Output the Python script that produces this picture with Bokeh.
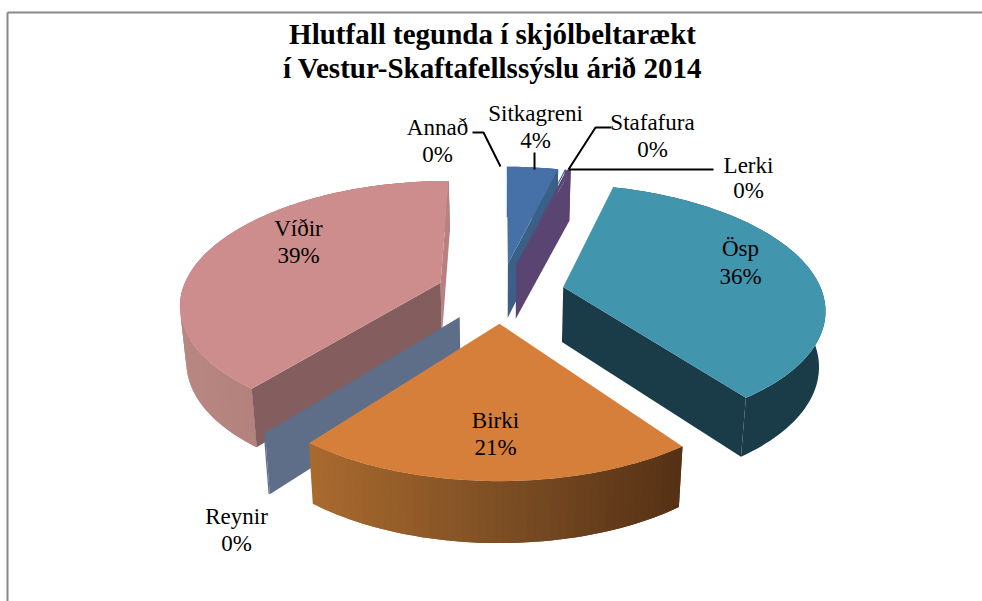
import math
from bokeh.plotting import figure
from bokeh.embed import file_html
from bokeh.resources import INLINE
from bokeh.core.properties import value

# ---- data ----
categories = ["Sitkagreni", "Stafafura", "Lerki", "Ösp", "Birki", "Reynir", "Víðir", "Annað"]
shares = [3.8, 0.1, 0.3, 35.8, 20.5, 0.1, 39.4, 0.0]
pct_labels = ["4%", "0%", "0%", "36%", "21%", "0%", "39%", "0%"]
title_lines = ["Hlutfall tegunda í skjólbeltarækt", "í Vestur-Skaftafellssýslu árið 2014"]

# ---- styles ----
top_col = dict(zip(categories, ["#4571a8", "#3a6088", "#5c4676", "#4196ae", "#d67f3b", "#5e6d88", "#cd8d8d", "#ffffff"]))
radial_col = dict(zip(categories, ["#3a6088", "#3a6088", "#5a4472", "#1a3c48", "#5a3416", "#5e6d88", "#845e5e", "#ffffff"]))
outer_stops = {
    "Sitkagreni": ["#3a6088", "#3a6088"],
    "Stafafura": ["#3a6088", "#3a6088"],
    "Lerki": ["#5a4472", "#5a4472"],
    "Ösp": ["#1a3c48", "#1a3c48"],
    "Birki": ["#aa6a2e", "#7e4f24", "#553115"],
    "Reynir": ["#5e6d88", "#5e6d88"],
    "Víðir": ["#b98781", "#a67270"],
}
radial_side = {"Sitkagreni": "end", "Lerki": "end", "Ösp": "end", "Reynir": "start", "Víðir": "start"}
label_pos = {
    "Sitkagreni": (535, 113, 140), "Stafafura": (652, 122, 149), "Lerki": (748, 165, 190),
    "Ösp": (740, 248, 276), "Birki": (495, 420, 447), "Reynir": (236, 516, 543),
    "Víðir": (298, 228, 255), "Annað": (437, 127, 154),
}
leaders = [
    ([472, 483, 500], [132, 132, 166]),
    ([534, 534], [152, 169]),
    ([611, 595, 568], [127, 127, 169]),
    ([568, 713], [169, 169]),
]

# ---- projection of the tilted pie ----
CX, CY, F, G, PERSP, EXPLODE = 500, 292, 259, 121, 0.16, 0.248


def project(x, y):
    w = 1 + PERSP * y
    return CX + F * x / w, CY - G * y / w


def drop(pt):
    return CX + (pt[0] - CX) * 0.98, pt[1] + 44.6 + 0.036 * pt[1]


def hex2rgb(c):
    return [int(c[i:i + 2], 16) for i in (1, 3, 5)]


def ramp(stops, t):
    t = max(0, min(1, t)) * (len(stops) - 1)
    i = min(int(t), len(stops) - 2)
    a, b = hex2rgb(stops[i]), hex2rgb(stops[i + 1])
    f = t - i
    return "#%02x%02x%02x" % tuple(round(a[k] + (b[k] - a[k]) * f) for k in range(3))


slices = {}
acc = 0.0
for name, share in zip(categories, shares):
    a0, a1 = acc * 3.6, (acc + share) * 3.6
    acc += share
    mid = math.radians((a0 + a1) / 2)
    ex, ey = EXPLODE * math.sin(mid), EXPLODE * math.cos(mid)
    apex = project(ex, ey)
    n = max(2, int((a1 - a0) / 1.5) + 2)
    arc = []
    for i in range(n):
        th = math.radians(a0 + (a1 - a0) * i / (n - 1))
        arc.append(project(ex + math.sin(th), ey + math.cos(th)))
    slices[name] = dict(apex=apex, arc=arc)

p = figure(width=982, height=601, x_range=(0, 982), y_range=(601, 0), toolbar_location=None,
           output_backend="svg", min_border=0)
p.axis.visible = False
p.grid.visible = False
p.outline_line_color = None
p.background_fill_color = "white"

# chart frame
p.line([7, 7], [601, 12], line_color="#8a8a8a", line_width=2)
p.line([7, 982], [12, 12], line_color="#8a8a8a", line_width=2)


def poly(pts, color):
    p.patch([q[0] for q in pts], [q[1] for q in pts], fill_color=color, line_color=None)


def draw(name, back_sliver=False):
    s = slices[name]
    apex, arc = s["apex"], s["arc"]
    stops = outer_stops[name]
    # outer wall, every strip overlapping the next so that no seams show
    xs = [q[0] for q in arc]
    lo, hi = min(xs), max(xs)
    if stops[0] == stops[-1]:
        poly(arc + [drop(q) for q in reversed(arc)], stops[0])
    else:
        order = sorted(range(len(arc) - 1), key=lambda i: arc[i][0])
        for i in order:
            a, b = arc[i], arc[i + 1]
            c = arc[min(i + 2, len(arc) - 1)] if arc[i + 1][0] > arc[i][0] else arc[i + 1]
            d = arc[max(i - 1, 0)] if arc[i + 1][0] < arc[i][0] else arc[i]
            t = ((a[0] + b[0]) / 2 - lo) / max(hi - lo, 1)
            poly([d, a, b, c, drop(c), drop(b), drop(a), drop(d)], ramp(stops, t))
    if back_sliver:
        poly([apex, arc[-1], drop(arc[-1]), drop(apex)], "#b88080")
    # radial wall
    edge = arc[-1] if radial_side.get(name) == "end" else arc[0]
    if name in radial_side:
        poly([apex, edge, drop(edge), drop(apex)], radial_col[name])
    # top face
    poly([apex] + arc, top_col[name])


for nm in ["Sitkagreni", "Stafafura", "Lerki"]:
    draw(nm)
draw("Víðir", back_sliver=True)
draw("Reynir")
draw("Ösp")
draw("Birki")

# leader lines
for lx, ly in leaders:
    p.line(lx, ly, line_color="black", line_width=2)

# texts
FONT = value("Liberation Serif")
p.text([492, 492], [33, 67], text=title_lines, text_font=FONT, text_font_size="29px",
       text_font_style="bold", text_align="center", text_baseline="middle", text_color="black")
for name, pct in zip(categories, pct_labels):
    x, y1, y2 = label_pos[name]
    p.text([x, x], [y1, y2], text=[name, pct], text_font=FONT, text_font_size="23px",
           text_align="center", text_baseline="middle", text_color="black")

open("out.html", "w").write(file_html(p, INLINE))
